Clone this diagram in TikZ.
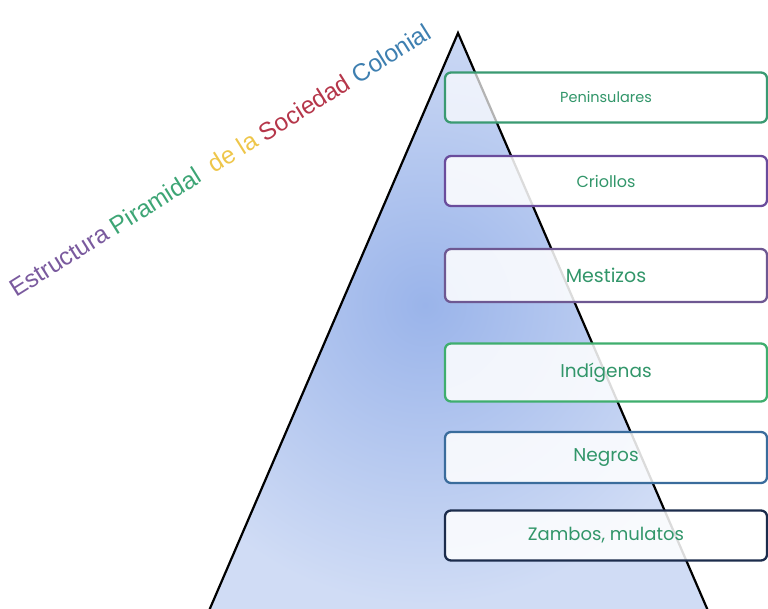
\documentclass[tikz,border=0pt]{standalone}
\usepackage{fontspec}
\setmainfont{Liberation Sans}
\newfontfamily\boxfont{Poppins}
\definecolor{tpurple}{HTML}{7A5A9E}
\definecolor{tgreen}{HTML}{3DA575}
\definecolor{tyellow}{HTML}{EEC64A}
\definecolor{tred}{HTML}{B5364A}
\definecolor{tblue}{HTML}{3E7FB0}
\definecolor{bgreen}{HTML}{3A9A72}
\definecolor{bpurple}{HTML}{6A4C9C}
\definecolor{bpurple2}{HTML}{6E5892}
\definecolor{bgreen2}{HTML}{3FAE6E}
\definecolor{bblue}{HTML}{3A6C9C}
\definecolor{bnavy}{HTML}{1C2C4C}
\definecolor{txtgreen}{HTML}{32966A}
\definecolor{pyrin}{HTML}{9AB4EA}
\definecolor{pyrout}{HTML}{D0DCF5}
\tikzset{
  level/.style={draw=#1, line width=2.3pt, rounded corners=6pt, fill=white, fill opacity=0.86, text opacity=1,
    minimum width=322pt, minimum height=50pt, inner sep=0pt, text=txtgreen, font=\boxfont},
}
\begin{document}
\begin{tikzpicture}[x=1pt,y=-1pt]
\useasboundingbox (0,0) rectangle (768,608);
\clip (0,0) rectangle (768,608);
\coordinate (apex) at (458,33);
\coordinate (bl) at (205,620);
\coordinate (br) at (712,620);
\begin{scope}
  \clip (apex) -- (br) -- (bl) -- cycle;
  \fill[pyrout] (apex) -- (br) -- (bl) -- cycle;
  \shade[inner color=pyrin, outer color=pyrout] (425,305) circle (300);
\end{scope}
\draw[line width=2.2pt, line join=miter] (bl) -- (apex) -- (br);

\node[level=bgreen, fill opacity=0.7, font=\boxfont\fontsize{14.5}{16}\selectfont] (p1) at (606,97.5) {Peninsulares};
\node[level=bpurple, font=\boxfont\fontsize{16}{18}\selectfont] (p2) at (606,181) {Criollos};
\node[level=bpurple2, minimum height=53pt, font=\boxfont\fontsize{19}{21}\selectfont] (p3) at (606,275.5) {Mestizos};
\node[level=bgreen2, minimum height=58pt, font=\boxfont\fontsize{18.5}{21}\selectfont] (p4) at (606,372.5) {Indígenas};
\node[level=bblue, minimum height=51pt, font=\boxfont\fontsize{18.5}{21}\selectfont] (p5) at (606,457.5) {Negros};
\node[level=bnavy, minimum height=50pt, font=\boxfont\fontsize{18}{20}\selectfont] (p6) at (606,535.5) {Zambos, mulatos};

\node[anchor=base west, rotate=32, inner sep=0pt, font=\fontsize{24.5}{28}\selectfont] (title) at (16,298)
  {\textcolor{tpurple}{Estructura} \textcolor{tgreen}{Piramidal}\ \ \textcolor{tyellow}{de la} \textcolor{tred}{Sociedad} \textcolor{tblue}{Colonial}};
\end{tikzpicture}
\end{document}
